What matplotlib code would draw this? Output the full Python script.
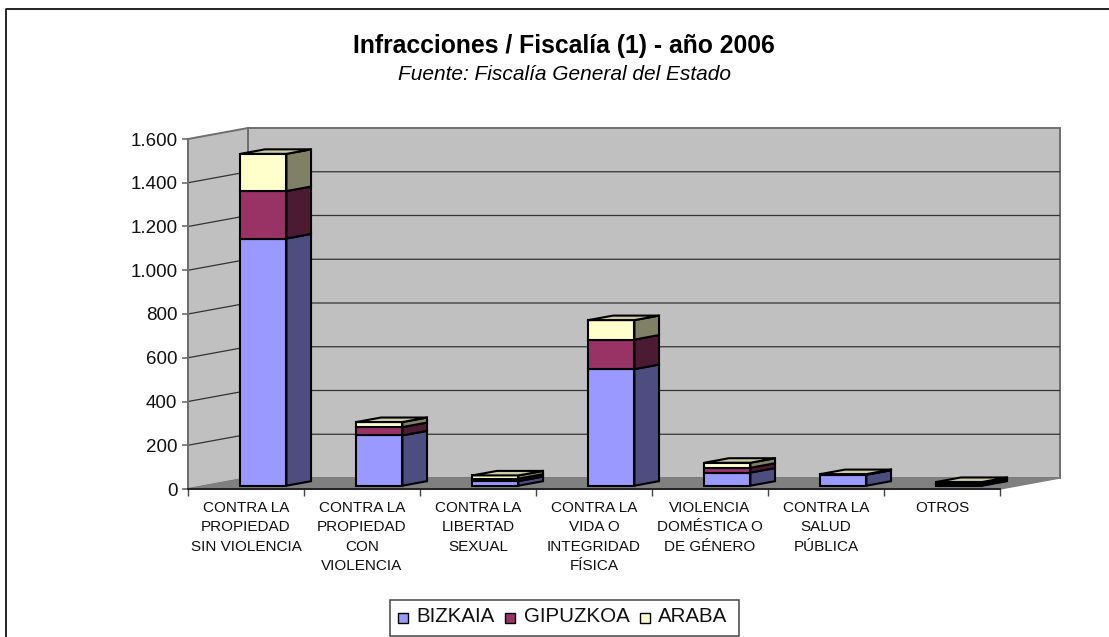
#!/usr/bin/env python3
"""
Infracciones / Fiscalia - fake 3D stacked columns, drawn by hand on 2D axes
"""

import matplotlib
matplotlib.use("Agg")
import matplotlib.pyplot as plt
from matplotlib.patches import Polygon, Rectangle

plt.rcParams['font.family'] = ['Liberation Sans', 'DejaVu Sans']

# Data
CATEGORIES = [
    "CONTRA LA\nPROPIEDAD\nSIN VIOLENCIA",
    "CONTRA LA\nPROPIEDAD\nCON\nVIOLENCIA",
    "CONTRA LA\nLIBERTAD\nSEXUAL",
    "CONTRA LA\nVIDA O\nINTEGRIDAD\nFÍSICA",
    "VIOLENCIA\nDOMÉSTICA O\nDE GÉNERO",
    "CONTRA LA\nSALUD\nPÚBLICA",
    "OTROS",
]
BIZKAIA = [1130, 230, 21, 533, 60, 50, 9]
GIPUZKOA = [217, 38, 11, 135, 22, 2, 5]
ARABA = [170, 23, 15, 89, 23, 1, 3]
SERIES_NAMES = ["BIZKAIA", "GIPUZKOA", "ARABA"]
Y_TICKS = [0, 200, 400, 600, 800, 1000, 1200, 1400, 1600]
Y_LABELS = ["0", "200", "400", "600", "800", "1.000", "1.200", "1.400", "1.600"]

# Colors: front, side, top
BAR_COLORS = [
    ("#9999FF", "#4D4D80", "#CCCCFF"),
    ("#993366", "#4D1A33", "#C08CA3"),
    ("#FFFFCC", "#808066", "#CCCCA3"),
]
WALL = "#C0C0C0"
FLOOR = "#808080"
WALL_EDGE = "#6E6E6E"

# Depth of the whole box, in data units (60 px across, 11 px up)
BOX_DX = 60 / 116
BOX_DY = 50.3
BAR_WIDTH = 46 / 116
BAR_D0 = 0.3      # bars stand a little inside the floor
BAR_D1 = 0.71


def project(x, y, d):
    """Data position at depth d (0 front, 1 back wall)"""
    return (x + d * BOX_DX, y + d * BOX_DY)


W, H = 1109, 637
fig = plt.figure(figsize=(W / 100, H / 100), dpi=100, facecolor="white")

# Outer frame, open on the right and bottom
frame = fig.add_axes([0, 0, 1, 1], zorder=0)
frame.set_xlim(0, W)
frame.set_ylim(H, 0)
frame.axis('off')
frame.plot([5.5, 5.5, W], [H, 8.5, 8.5], color="black", lw=1.2)

ax = fig.add_axes([188 / W, 1 - 489 / H, 872 / W, 361 / H], zorder=1)
ax.set_xlim(0, 872 / 116)
ax.set_ylim(0, 361 / 350 * 1600)
ax.patch.set_alpha(0)

n = len(CATEGORIES)
xmax = n

# Walls and floor
ax.add_patch(Polygon([project(0, 0, 1), project(xmax, 0, 1),
                      project(xmax, 1600, 1), project(0, 1600, 1)],
                     facecolor=WALL, edgecolor=WALL_EDGE, lw=1.4, clip_on=False))
ax.add_patch(Polygon([project(0, 0, 0), project(0, 0, 1),
                      project(0, 1600, 1), project(0, 1600, 0)],
                     facecolor=WALL, edgecolor=WALL_EDGE, lw=1.4, clip_on=False))
ax.add_patch(Polygon([project(0, 0, 0), project(xmax, 0, 0),
                      project(xmax, 0, 1), project(0, 0, 1)],
                     facecolor=FLOOR, edgecolor=FLOOR, lw=1, clip_on=False))

# Gridlines on both walls
for v in Y_TICKS[1:-1]:
    p0, p1, p2 = project(0, v, 0), project(0, v, 1), project(xmax, v, 1)
    ax.plot([p0[0], p1[0], p2[0]], [p0[1], p1[1], p2[1]], color="#333333", lw=0.9, zorder=1.5)

# Stacked bars
for i in range(n):
    x0 = i + 0.5 - BAR_WIDTH / 2 - 0.005
    x1 = x0 + BAR_WIDTH
    bottom = 0
    for vals, (front, side, top) in zip([BIZKAIA, GIPUZKOA, ARABA], BAR_COLORS):
        y0, y1 = bottom, bottom + vals[i]
        ax.add_patch(Polygon([project(x1, y0, BAR_D0), project(x1, y0, BAR_D1),
                              project(x1, y1, BAR_D1), project(x1, y1, BAR_D0)],
                             facecolor=side, edgecolor="black", lw=1.5, zorder=3))
        ax.add_patch(Polygon([project(x0, y0, BAR_D0), project(x1, y0, BAR_D0),
                              project(x1, y1, BAR_D0), project(x0, y1, BAR_D0)],
                             facecolor=front, edgecolor="black", lw=1.5, zorder=3))
        bottom = y1
    # only the top series shows its lid
    ax.add_patch(Polygon([project(x0, bottom, BAR_D0), project(x1, bottom, BAR_D0),
                          project(x1, bottom, BAR_D1), project(x0, bottom, BAR_D1)],
                         facecolor=BAR_COLORS[2][2], edgecolor="black", lw=1.5, zorder=3))

# Axes
for name in ['top', 'right']:
    ax.spines[name].set_visible(False)
ax.spines['left'].set_bounds(0, 1600)
ax.spines['left'].set_color(WALL_EDGE)
ax.spines['left'].set_linewidth(1.4)
ax.spines['bottom'].set_bounds(0, xmax)
ax.spines['bottom'].set_color("#222222")
ax.spines['bottom'].set_linewidth(1.4)
ax.set_yticks(Y_TICKS, Y_LABELS, fontsize=13.5, color="#111111")
ax.tick_params(axis='y', length=6.5 * 0.72, width=1.2, color=WALL_EDGE, pad=3)
ax.set_xticks([i for i in range(n + 1)], minor=True)
ax.set_xticks([i + 0.5 for i in range(n)], CATEGORIES, fontsize=11, linespacing=1.5, color="#111111")
ax.tick_params(axis='x', which='major', length=0, pad=8.5)
ax.tick_params(axis='x', which='minor', length=5, width=1.0, color="#444444")

# Titles
frame.text(563.5, 46, "Infracciones / Fiscalía (1) - año 2006", ha='center', va='center',
           fontsize=17.8, fontweight='bold', color="black")
frame.text(564, 74, "Fuente: Fiscalía General del Estado", ha='center', va='center',
           fontsize=15, style='italic', color="black")

# Legend, laid out by hand to keep the squares tight
frame.add_patch(Rectangle((389.5, 599.5), 349.5, 36.5, facecolor="white", edgecolor="#444444", lw=1.1))
for sx, tx, name, cols in zip([398, 505, 640], [416.5, 524, 658], SERIES_NAMES, BAR_COLORS):
    frame.add_patch(Rectangle((sx, 613), 10, 10, facecolor=cols[0], edgecolor="black", lw=1))
    frame.text(tx, 617, name, ha='left', va='center', fontsize=14.8, color="#111111")

fig.savefig("out.png", dpi=100, facecolor="white")
